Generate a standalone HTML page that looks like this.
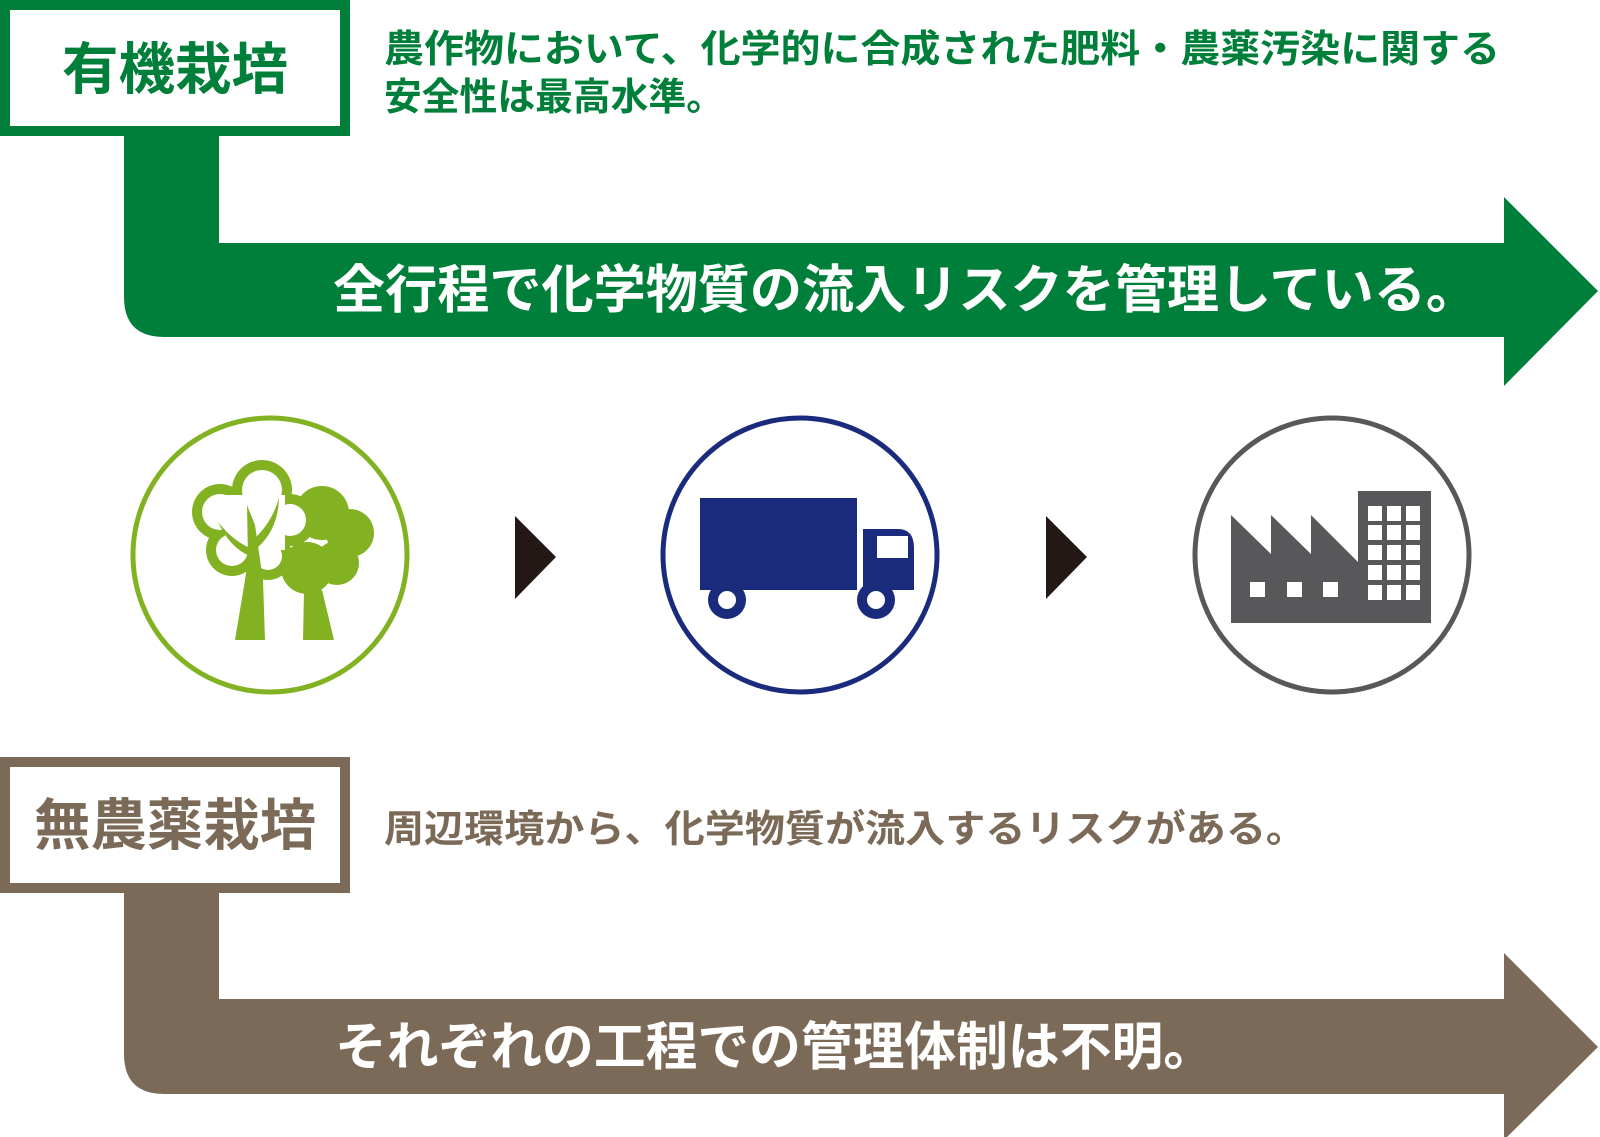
<!DOCTYPE html>
<html><head><meta charset="utf-8"><style>
html,body{margin:0;padding:0;background:#fff;}
svg{display:block;}
text{font-family:"Liberation Sans","Noto Sans CJK JP",sans-serif;font-weight:bold;}
</style></head><body>
<svg width="1600" height="1137" viewBox="0 0 1600 1137" xmlns="http://www.w3.org/2000/svg">
<!-- green section -->
<path d="M124 130 H219 V243 H1504 V197 L1598 291 L1504 386 V337 H164 Q124 337 124 297 Z" fill="#007f3a"/>
<rect x="5" y="5" width="340" height="126" fill="#fff" stroke="#007f3a" stroke-width="10"/>
<text x="175" y="89" font-size="56" fill="#007f3a" text-anchor="middle" textLength="226" lengthAdjust="spacingAndGlyphs">有機栽培</text>
<text x="384" y="62" font-size="38" fill="#007f3a" textLength="1116" lengthAdjust="spacingAndGlyphs">農作物において、化学的に合成された肥料・農薬汚染に関する</text>
<text x="384" y="110" font-size="38" fill="#007f3a" textLength="340" lengthAdjust="spacingAndGlyphs">安全性は最高水準。</text>
<text x="333" y="308" font-size="52" fill="#fff" textLength="1145" lengthAdjust="spacingAndGlyphs">全行程で化学物質の流入リスクを管理している。</text>

<!-- brown section -->
<path d="M124 890 H219 V999 H1504 V953 L1598 1047 L1504 1140 V1094 H164 Q124 1094 124 1054 Z" fill="#7b6a57"/>
<rect x="5" y="762" width="340" height="126" fill="#fff" stroke="#7b6a57" stroke-width="10"/>
<text x="175" y="845" font-size="56" fill="#7b6a57" text-anchor="middle" textLength="282" lengthAdjust="spacingAndGlyphs">無農薬栽培</text>
<text x="384" y="842" font-size="38" fill="#7b6a57" textLength="922" lengthAdjust="spacingAndGlyphs">周辺環境から、化学物質が流入するリスクがある。</text>
<text x="335" y="1065" font-size="52" fill="#fff" textLength="880" lengthAdjust="spacingAndGlyphs">それぞれの工程での管理体制は不明。</text>

<!-- circles -->
<circle cx="270" cy="555" r="137" fill="none" stroke="#82b222" stroke-width="5"/>
<circle cx="800" cy="555" r="137" fill="none" stroke="#1a2a7c" stroke-width="5"/>
<circle cx="1332" cy="555" r="137" fill="none" stroke="#58585a" stroke-width="5"/>

<!-- triangles -->
<polygon points="515,516 556,557 515,599" fill="#231815"/>
<polygon points="1046,516 1087,557 1046,599" fill="#231815"/>

<!-- tree -->
<g fill="#82b222">
  <circle cx="322" cy="513" r="27"/>
  <circle cx="350" cy="533" r="24"/>
  <circle cx="337" cy="563" r="22"/>
  <circle cx="307" cy="568" r="26"/>
  <polygon points="304,590 322,590 334,640 303,640"/>
  <circle cx="262" cy="490" r="30"/>
  <circle cx="220" cy="512" r="28"/>
  <circle cx="290" cy="520" r="26"/>
  <circle cx="232" cy="550" r="26"/>
  <circle cx="268" cy="556" r="24"/>
</g>
<g fill="#fff">
  <circle cx="262" cy="490" r="20"/>
  <circle cx="220" cy="512" r="18"/>
  <circle cx="290" cy="520" r="16"/>
  <circle cx="232" cy="550" r="16"/>
  <circle cx="268" cy="556" r="14"/>
  <rect x="225" y="495" width="60" height="55"/>
</g>
<g fill="#82b222">
  <polygon points="247,505 255,525 263,580 265,640 235,640 245,580 248,560"/>
  <path d="M218 522 Q230 548 250 556 L250 548 Q232 540 218 522 Z"/>
  <path d="M279 498 Q272 522 255 538 L257 548 Q278 530 279 498 Z"/>
</g>

<!-- truck -->
<g fill="#1a2a7c">
  <rect x="700" y="498" width="157" height="92"/>
  <path d="M863 529 H898 Q914 529 914 548 V590 H863 Z"/>
  <circle cx="727" cy="600" r="19"/>
  <circle cx="876" cy="600" r="19"/>
</g>
<rect x="877" y="536" width="31" height="22" fill="#fff"/>
<circle cx="727" cy="600" r="9" fill="#fff"/>
<circle cx="876" cy="600" r="9" fill="#fff"/>

<!-- factory -->
<g fill="#58585a">
  <polygon points="1231,515 1271,554 1271,515 1311,554 1311,515 1358,562 1358,491 1431,491 1431,623 1231,623"/>
</g>
<g fill="#fff">
  <rect x="1250" y="582" width="15" height="15"/>
  <rect x="1287" y="582" width="15" height="15"/>
  <rect x="1323" y="582" width="15" height="15"/>
  <rect x="1368" y="506" width="14" height="15"/><rect x="1387" y="506" width="14" height="15"/><rect x="1406" y="506" width="14" height="15"/>
  <rect x="1368" y="525" width="14" height="15"/><rect x="1387" y="525" width="14" height="15"/><rect x="1406" y="525" width="14" height="15"/>
  <rect x="1368" y="545" width="14" height="15"/><rect x="1387" y="545" width="14" height="15"/><rect x="1406" y="545" width="14" height="15"/>
  <rect x="1368" y="565" width="14" height="15"/><rect x="1387" y="565" width="14" height="15"/><rect x="1406" y="565" width="14" height="15"/>
  <rect x="1368" y="585" width="14" height="15"/><rect x="1387" y="585" width="14" height="15"/><rect x="1406" y="585" width="14" height="15"/>
</g>
</svg>
</body></html>
